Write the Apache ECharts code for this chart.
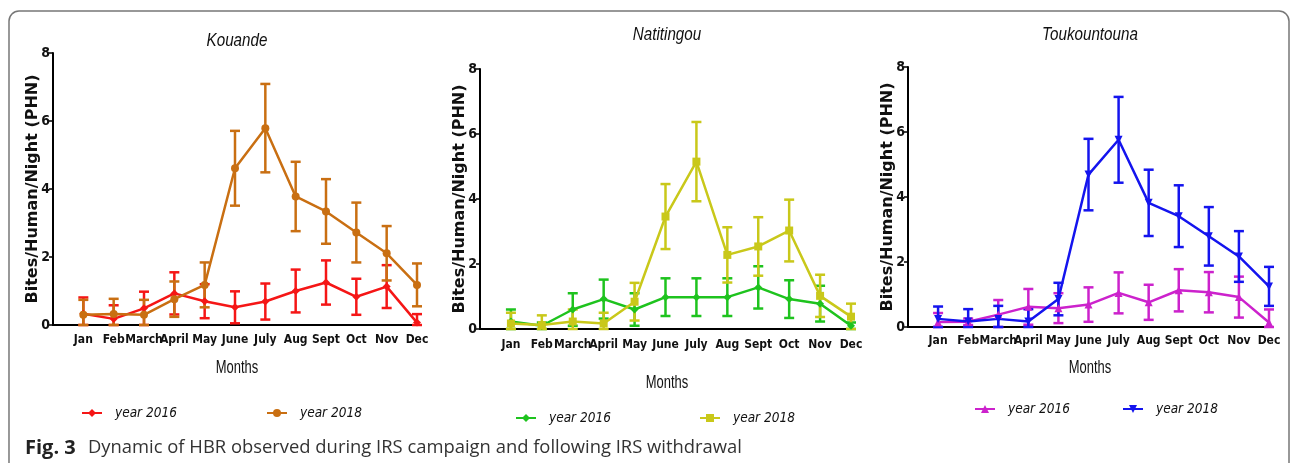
<!DOCTYPE html>
<html>
<head>
<meta charset="utf-8">
<script src="https://cdn.jsdelivr.net/npm/echarts@6/dist/echarts.min.js"></script>
<style>
html, body { margin: 0; padding: 0; background: #fff; }
#chart { width: 1293px; height: 463px; }
</style>
</head>
<body>
<div id="chart"></div>
<script>
// months on the x axis (position 0 is left empty, Jan sits at 1)
const months = ['Jan', 'Feb', 'March', 'April', 'May', 'June', 'July', 'Aug', 'Sept', 'Oct', 'Nov', 'Dec'];
const yTicks = [0, 2, 4, 6, 8];

// Kouande
const kouande2016 = [0.33, 0.18, 0.49, 0.93, 0.70, 0.52, 0.69, 1.00, 1.25, 0.83, 1.13, 0.07];
const kouande2016Err = [0.48, 0.40, 0.49, 0.62, 0.50, 0.47, 0.53, 0.63, 0.65, 0.53, 0.63, 0.25];
const kouande2018 = [0.30, 0.32, 0.30, 0.76, 1.18, 4.61, 5.79, 3.78, 3.34, 2.72, 2.11, 1.18];
const kouande2018Err = [0.44, 0.45, 0.44, 0.52, 0.66, 1.10, 1.30, 1.02, 0.95, 0.88, 0.80, 0.63];

// Natitingou
const natitingou2016 = [0.23, 0.10, 0.60, 0.92, 0.60, 0.98, 0.98, 0.98, 1.28, 0.92, 0.78, 0.10];
const natitingou2016Err = [0.37, 0.10, 0.50, 0.60, 0.50, 0.58, 0.58, 0.58, 0.65, 0.58, 0.55, 0.10];
const natitingou2018 = [0.17, 0.12, 0.23, 0.17, 0.84, 3.46, 5.15, 2.28, 2.54, 3.03, 1.02, 0.38];
const natitingou2018Err = [0.33, 0.30, 0.37, 0.33, 0.58, 1.00, 1.22, 0.85, 0.90, 0.95, 0.65, 0.40];

// Toukountouna
const toukountouna2016 = [0.15, 0.16, 0.38, 0.62, 0.58, 0.69, 1.05, 0.76, 1.13, 1.07, 0.92, 0.14];
const toukountouna2016Err = [0.28, 0.10, 0.45, 0.55, 0.46, 0.53, 0.63, 0.54, 0.65, 0.62, 0.63, 0.40];
const toukountouna2018 = [0.25, 0.17, 0.25, 0.17, 0.86, 4.69, 5.76, 3.82, 3.41, 2.79, 2.17, 1.25];
const toukountouna2018Err = [0.38, 0.38, 0.40, 0.38, 0.50, 1.10, 1.32, 1.02, 0.95, 0.90, 0.78, 0.60];

const narrow = "'DejaVu Sans Condensed', sans-serif";

const panels = [
  {
    title: 'Kouande', titleX: 237, titleY: 41, monthsY: 368,
    grid: { left: 53, top: 53, width: 364, height: 272 },
    labelMargin: 9,
    series: [
      { name: 'Kouande year 2016', color: '#f51616', symbol: 'diamond', values: kouande2016, errs: kouande2016Err, legend: [76, 401] },
      { name: 'Kouande year 2018', color: '#c96f12', symbol: 'circle', values: kouande2018, errs: kouande2018Err, legend: [261, 401] }
    ]
  },
  {
    title: 'Natitingou', titleX: 667, titleY: 35, monthsY: 383,
    grid: { left: 480, top: 69, width: 371, height: 260 },
    labelMargin: 10,
    series: [
      { name: 'Natitingou year 2016', color: '#1ec31e', symbol: 'diamond', values: natitingou2016, errs: natitingou2016Err, legend: [510, 406] },
      { name: 'Natitingou year 2018', color: '#c9c81a', symbol: 'rect', values: natitingou2018, errs: natitingou2018Err, legend: [694, 406] }
    ]
  },
  {
    title: 'Toukountouna', titleX: 1090, titleY: 35, monthsY: 368,
    grid: { left: 908, top: 67, width: 361, height: 260 },
    labelMargin: 8,
    series: [
      { name: 'Toukountouna year 2016', color: '#cc22cc', symbol: 'triangle', values: toukountouna2016, errs: toukountouna2016Err, legend: [969, 397] },
      { name: 'Toukountouna year 2018', color: '#1414ee', symbol: 'triangle', rotate: 180, values: toukountouna2018, errs: toukountouna2018Err, legend: [1117, 397] }
    ]
  }
];

function errorBars(color) {
  return function (params, api) {
    const x = api.value(0);
    const lo = api.coord([x, api.value(1)]);
    const hi = api.coord([x, api.value(2)]);
    const w = 5;
    const style = { stroke: color, lineWidth: 2.5 };
    return {
      type: 'group',
      children: [
        { type: 'line', shape: { x1: lo[0], y1: lo[1], x2: hi[0], y2: hi[1] }, style: style },
        { type: 'line', shape: { x1: hi[0] - w, y1: hi[1], x2: hi[0] + w, y2: hi[1] }, style: style },
        { type: 'line', shape: { x1: lo[0] - w, y1: lo[1], x2: lo[0] + w, y2: lo[1] }, style: style }
      ]
    };
  };
}

const grid = [], xAxis = [], yAxis = [], series = [], legend = [];
const graphic = [
  { type: 'rect', shape: { x: 9, y: 11, width: 1280, height: 480, r: 10 }, style: { fill: 'none', stroke: '#777', lineWidth: 1.5 }, z: -1 },
  { type: 'text', x: 25, y: 448, style: { text: 'Fig. 3', font: "bold 20px 'Open Sans', sans-serif", fill: '#222', verticalAlign: 'middle' } },
  { type: 'text', x: 88, y: 448, style: { text: 'Dynamic of HBR observed during IRS campaign and following IRS withdrawal', font: "18.4px 'Open Sans', sans-serif", fill: '#333', verticalAlign: 'middle' } }
];

panels.forEach(function (p, gi) {
  grid.push(p.grid);
  graphic.push({
    type: 'text', x: p.titleX, y: p.titleY, scaleX: 0.8,
    style: { text: p.title, font: "italic 19px 'Liberation Sans', sans-serif", fill: '#111', align: 'center', verticalAlign: 'middle' }
  });
  graphic.push({
    type: 'text', x: p.titleX, y: p.monthsY, scaleX: 0.72,
    style: { text: 'Months', font: "18px 'Liberation Sans', sans-serif", fill: '#111', align: 'center', verticalAlign: 'middle' }
  });
  xAxis.push({
    gridIndex: gi, type: 'value', min: 0, max: 12, interval: 1,
    axisLine: { lineStyle: { color: '#000', width: 2 } },
    axisTick: { show: false },
    splitLine: { show: false },
    axisLabel: {
      margin: p.labelMargin, fontFamily: narrow, fontWeight: 'bold', fontSize: 12, color: '#111',
      formatter: function (v) { return months[v - 1] || ''; }
    }
  });
  yAxis.push({
    gridIndex: gi, type: 'value', min: yTicks[0], max: yTicks[yTicks.length - 1], interval: 2,
    name: 'Bites/Human/Night (PHN)', nameLocation: 'middle', nameRotate: 90, nameGap: 12,
    nameMoveOverlap: false,
    nameTextStyle: { fontFamily: 'DejaVu Sans', fontWeight: 'bold', fontSize: 16, color: '#111' },
    axisLine: { show: true, lineStyle: { color: '#000', width: 2 } },
    axisTick: { show: true, length: 4, lineStyle: { color: '#000', width: 1.5 } },
    splitLine: { show: false },
    axisLabel: { margin: 3, fontFamily: narrow, fontWeight: 'bold', fontSize: 14, color: '#111' }
  });
  p.series.forEach(function (s) {
    series.push({
      type: 'custom', name: s.name + ' SEM', xAxisIndex: gi, yAxisIndex: gi,
      renderItem: errorBars(s.color),
      encode: { x: 0, y: [1, 2] },
      data: s.values.map(function (v, i) { return [i + 1, Math.max(0, v - s.errs[i]), v + s.errs[i]]; }),
      z: 2, silent: true
    });
    series.push({
      type: 'line', name: s.name, xAxisIndex: gi, yAxisIndex: gi,
      data: s.values.map(function (v, i) { return [i + 1, v]; }),
      symbol: s.symbol, symbolSize: 8, symbolRotate: s.rotate || 0,
      itemStyle: { color: s.color },
      lineStyle: { color: s.color, width: 2.5 },
      z: 3
    });
    legend.push({
      data: [s.name], left: s.legend[0], top: s.legend[1],
      itemWidth: 20, itemHeight: 10,
      formatter: function (name) { return name.replace(/^\S+ /, ''); },
      textStyle: { fontFamily: 'DejaVu Sans Condensed', fontStyle: 'italic', fontSize: 13.5, color: '#111', padding: [0, 0, 0, 8] }
    });
  });
});

const myChart = echarts.init(document.getElementById('chart'));
myChart.setOption({
  animation: false,
  backgroundColor: '#fff',
  grid: grid,
  xAxis: xAxis,
  yAxis: yAxis,
  legend: legend,
  series: series,
  graphic: graphic
});
window.onresize = myChart.resize;
</script>
</body>
</html>
